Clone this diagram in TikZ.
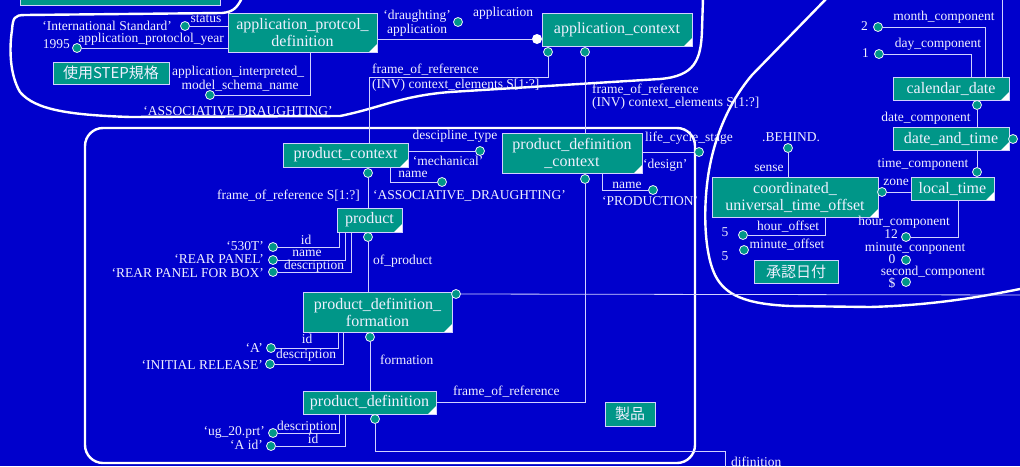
\documentclass[tikz,border=0pt]{standalone}
\usepackage{fontspec}
\setmainfont{Liberation Serif}
\newfontfamily\jpfont{Noto Sans CJK JP}

\definecolor{bgblue}{RGB}{0,0,204}
\definecolor{boxteal}{RGB}{0,150,136}
\definecolor{wire}{RGB}{210,210,255}
\definecolor{ink}{RGB}{240,240,255}

\tikzstyle{entity} = [rectangle, draw=wire, fill=boxteal, text=ink, line width=0.8pt,
inner sep=0pt, align=center, font=\fontsize{16}{17}\selectfont,
path picture={\fill[white] ([xshift=-8pt]path picture bounding box.south east) -- (path picture bounding box.south east) -- ([yshift=8pt]path picture bounding box.south east) -- cycle;}]
\tikzstyle{plainbox} = [rectangle, draw=wire, fill=boxteal, text=ink, line width=0.8pt,
inner sep=0pt, font=\jpfont\fontsize{15}{16}\selectfont]
\tikzstyle{attr} = [circle, draw=ink, fill=boxteal, line width=0.8pt, inner sep=0pt, minimum size=9pt]
\tikzstyle{lbl} = [text=ink, inner sep=0pt, text height=9pt, text depth=2.5pt, font=\fontsize{13.5}{14}\selectfont]
\tikzstyle{wireline} = [draw=wire, line width=0.8pt]
\tikzstyle{region} = [draw=white, line width=2.4pt]

\begin{document}
\begin{tikzpicture}[x=1pt, y=-1pt]
	\useasboundingbox (0,0) rectangle (1020,466);
	\path[clip] (0,0) rectangle (1020,466);
	\fill[bgblue] (0,0) rectangle (1020,466);

	%regions
	\draw[region] (242,-2) .. controls (237,8) and (233,12) .. (222,13) -- (25,15)
		.. controls (14,15) and (13,18) .. (12,30) .. controls (9,50) and (10,75) .. (20,92)
		.. controls (35,110) and (70,115) .. (130,117) -- (340,116)
		.. controls (380,108) and (400,96) .. (450,92) -- (660,79)
		.. controls (695,76) and (701,60) .. (702,30) -- (703,-2);
	\draw[region] (827,-2) -- (752,75) .. controls (735,95) and (718,125) .. (710,165)
		.. controls (703,200) and (703,250) .. (715,275) .. controls (725,295) and (745,304) .. (790,306)
		-- (870,307) .. controls (940,305) and (990,295) .. (1025,288);
	\draw[region, rounded corners=18pt] (85,128) rectangle (695,463);

	%nodes for application part
	\node[plainbox, minimum width=200pt, minimum height=30pt] (topbox) at (120,-10) {};
	\node[entity, minimum width=149pt, minimum height=39pt] (apd) at (302.5,32.5) {application\_protcol\_\\definition};
	\node[entity, minimum width=150pt, minimum height=33pt] (ac) at (617,29.5) {application\_context};
	\node[plainbox, minimum width=116pt, minimum height=22pt] (stepStd) at (111,73) {使用STEP規格};
	\node[attr] (dStatus) at (185,26) {};
	\node[attr] (dYear) at (77,48) {};
	\node[attr] (dSchema) at (210,95) {};
	\node[attr] (dDraught) at (458,22) {};
	\node[circle, fill=white, inner sep=0pt, minimum size=10pt] (dApp) at (537,39) {};
	\node[attr] (dAcA) at (548,52) {};
	\node[attr] (dAcB) at (585,52) {};

	%nodes for product part
	\node[entity, minimum width=125pt, minimum height=24pt] (pc) at (345.5,155) {product\_context};
	\node[entity, minimum width=65pt, minimum height=24pt] (prod) at (369.5,220) {product};
	\node[entity, minimum width=140pt, minimum height=40pt] (pdc) at (572,153) {product\_definition\\\_context};
	\node[entity, minimum width=149pt, minimum height=40pt] (pdf) at (377.5,312) {product\_definition\_\\formation};
	\node[entity, minimum width=133pt, minimum height=23pt] (pd) at (369.5,402.5) {product\_definition};
	\node[plainbox, minimum width=50pt, minimum height=24pt] (seihin) at (630,414) {製品};
	\node[attr] (dPcDisc) at (480,151) {};
	\node[attr] (dPcName) at (442,182) {};
	\node[attr] (dPc) at (368,173) {};
	\node[attr] (dProdId) at (273,247) {};
	\node[attr] (dProdName) at (273,260) {};
	\node[attr] (dProdDesc) at (273,272) {};
	\node[attr] (dProd) at (368,237) {};
	\node[attr] (dPdc) at (585,179) {};
	\node[attr] (dLife) at (699,152) {};
	\node[attr] (dPdcName) at (653,190) {};
	\node[attr] (dPdfRight) at (456,294) {};
	\node[attr] (dPdf) at (370,337) {};
	\node[attr] (dPdfId) at (271,348) {};
	\node[attr] (dPdfDesc) at (270,364) {};
	\node[attr] (dPd) at (375,419) {};
	\node[attr] (dPdDesc) at (273,433) {};
	\node[attr] (dPdId) at (271,446) {};

	%nodes for date and time part
	\node[entity, minimum width=116pt, minimum height=23pt] (cal) at (951,88.5) {calendar\_date};
	\node[entity, minimum width=116pt, minimum height=23pt] (dat) at (951,138.5) {date\_and\_time};
	\node[entity, minimum width=83pt, minimum height=23pt] (lt) at (952.5,188.5) {local\_time};
	\node[entity, minimum width=166pt, minimum height=40pt] (cuto) at (795,197) {coordinated\_\\universal\_time\_offset};
	\node[plainbox, minimum width=84pt, minimum height=23pt] (approval) at (796,271.5) {承認日付};
	\node[attr] (dMonth) at (878,27) {};
	\node[attr] (dDay) at (879,54) {};
	\node[attr] (dCal) at (977,105) {};
	\node[attr] (dDatRight) at (1013,139) {};
	\node[attr] (dDat) at (977,172) {};
	\node[attr] (dZone) at (882,192) {};
	\node[attr] (dSense) at (788,148) {};
	\node[attr] (dHour) at (743,235) {};
	\node[attr] (dMinute) at (744,250) {};
	\node[attr] (dLtHour) at (906,237) {};
	\node[attr] (dLtMin) at (906,260) {};
	\node[attr] (dLtSec) at (906,282) {};

	\coordinate (acBend) at (369,77);
	\coordinate (pdfOut) at (1030,295);
	\coordinate (pdBend) at (725,451);
	\coordinate (pdOut) at (725,480);
	\coordinate (calOut) at (1002,-10);

	%edges
	\path[wireline] (dStatus) -- (apd.west |- dStatus);
	\path[wireline] (dYear) -- (apd.west |- dYear);
	\path[wireline] (dSchema) -| ([xshift=-67pt]apd.south east);
	\path[wireline] (apd.east |- dApp) -- (dApp);
	\path[wireline] (dAcA) |- (acBend) -- (acBend |- pc.north);
	\path[wireline] (dAcB) -- (dAcB |- pdc.north);
	\path[wireline] (pc.east |- dPcDisc) -- (dPcDisc);
	\path[wireline] (dPcName) -| ([xshift=44.5pt]pc.south);
	\path[wireline] (dPc) -- (dPc |- prod.north);
	\path[wireline] (dProdId) -| ([xshift=-30.5pt]prod.south);
	\path[wireline] (dProdName) -| ([xshift=-24.5pt]prod.south);
	\path[wireline] (dProdDesc) -| ([xshift=-18.5pt]prod.south);
	\path[wireline] (dProd) -- (dProd |- pdf.north);
	\path[wireline] (pdc.east |- dLife) -- (dLife);
	\path[wireline] (dPdcName) -| ([xshift=30pt]pdc.south);
	\path[wireline] (dPdc) |- (pd.east);
	\path[wireline] (dPdfRight) -- (pdfOut);
	\path[wireline] (dPdfId) -| ([xshift=-39.5pt]pdf.south);
	\path[wireline] (dPdfDesc) -| ([xshift=-34.5pt]pdf.south);
	\path[wireline] (dPdf) -- (dPdf |- pd.north);
	\path[wireline] (dPdDesc) -| ([xshift=-30.5pt]pd.south);
	\path[wireline] (dPdId) -| ([xshift=-24.5pt]pd.south);
	\path[wireline] (dPd) |- (pdBend) -- (pdOut);
	\path[wireline] (dMonth) -| ([xshift=34pt]cal.north);
	\path[wireline] (dDay) -| ([xshift=20pt]cal.north);
	\path[wireline] ([xshift=51pt]cal.north) -- (calOut);
	\path[wireline] (dCal) -- (dCal |- dat.north);
	\path[wireline] (dat.south -| dDat) -- (dDat);
	\path[wireline] (dZone) -- (lt.west |- dZone);
	\path[wireline] (dSense) -- (dSense |- cuto.north);
	\path[wireline] (dHour) -| ([xshift=30pt]cuto.south);
	\path[wireline] (dLtHour) -| ([xshift=5.5pt]lt.south);

	%labels for application part
	\node[lbl, anchor=east] (tIntl) at (172,27) {‘International Standard’};
	\node[lbl] (tStatus) at (206,19) {status};
	\node[lbl, anchor=east] (t1995) at (70,45) {1995};
	\node[lbl] (tYear) at (151,39) {application\_protoclol\_year};
	\node[lbl] (tAim) at (238,72) {application\_interpreted\_};
	\node[lbl] (tSchema) at (240,86) {model\_schema\_name};
	\node[lbl] (tAssoc) at (238,112) {‘ASSOCIATIVE DRAUGHTING’};
	\node[lbl] (tDraught) at (417,16) {‘draughting’};
	\node[lbl] (tAppA) at (417,30) {application};
	\node[lbl] (tAppB) at (503,13) {application};
	\node[lbl, anchor=west] (tFrameA) at (372,70) {frame\_of\_reference};
	\node[lbl, anchor=west] (tInvA) at (372,85) {(INV) context\_elements S[1:?]};
	\node[lbl, anchor=west] (tFrameB) at (592,90) {frame\_of\_reference};
	\node[lbl, anchor=west] (tInvB) at (592,103) {(INV) context\_elements S[1:?]};

	%labels for product part
	\node[lbl] (tDisc) at (455,136) {descipline\_type};
	\node[lbl] (tMech) at (448,162) {‘mechanical’};
	\node[lbl] (tPcName) at (413,174) {name};
	\node[lbl, anchor=west] (tAssocB) at (373,196) {‘ASSOCIATIVE\_DRAUGHTING’};
	\node[lbl, anchor=east] (tFrameC) at (360,196) {frame\_of\_reference S[1:?]};
	\node[lbl] (tProdId) at (306,241) {id};
	\node[lbl] (tProdName) at (307,253) {name};
	\node[lbl] (tProdDesc) at (314,266) {description};
	\node[lbl, anchor=east] (t530) at (264,247) {‘530T’};
	\node[lbl, anchor=east] (tRear) at (264,260) {‘REAR PANEL’};
	\node[lbl, anchor=east] (tRearBox) at (264,274) {‘REAR PANEL FOR BOX’};
	\node[lbl, anchor=west] (tOfProd) at (373,261) {of\_product};
	\node[lbl, anchor=west] (tLife) at (645,138) {life\_cycle\_stage};
	\node[lbl, anchor=west] (tDesign) at (643,165) {‘design’};
	\node[lbl] (tPdcName) at (627,185) {name};
	\node[lbl, anchor=west] (tProduction) at (602,202) {‘PRODUCTION’};
	\node[lbl] (tPdfId) at (307,340) {id};
	\node[lbl] (tPdfDesc) at (306,355) {description};
	\node[lbl, anchor=east] (tA) at (263,349) {‘A’};
	\node[lbl, anchor=east] (tInitial) at (263,366) {‘INITIAL RELEASE’};
	\node[lbl, anchor=west] (tFormation) at (380,361) {formation};
	\node[lbl, anchor=west] (tFrameD) at (453,392) {frame\_of\_reference};
	\node[lbl] (tPdDesc) at (307,427) {description};
	\node[lbl] (tPdId) at (313,440) {id};
	\node[lbl, anchor=east] (tUg) at (265,432) {‘ug\_20.prt’};
	\node[lbl, anchor=east] (tAid) at (263,446) {‘A id’};
	\node[lbl, anchor=north west] (tDifi) at (731,457) {difinition};

	%labels for date and time part
	\node[lbl] (tMonth) at (944,17) {month\_component};
	\node[lbl, anchor=east] (t2) at (868,27) {2};
	\node[lbl] (tDay) at (938,44) {day\_component};
	\node[lbl, anchor=east] (t1) at (869,54) {1};
	\node[lbl] (tDateComp) at (926,118) {date\_component};
	\node[lbl] (tTimeComp) at (923,164) {time\_component};
	\node[lbl] (tZone) at (896,182) {zone};
	\node[lbl] (tBehind) at (791,138) {.BEHIND.};
	\node[lbl] (tSense) at (769,168) {sense};
	\node[lbl] (tHourOff) at (788,227) {hour\_offset};
	\node[lbl] (t5a) at (725,233) {5};
	\node[lbl] (tMinOff) at (787,245) {minute\_offset};
	\node[lbl] (t5b) at (725,257) {5};
	\node[lbl] (tHourComp) at (904,222) {hour\_component};
	\node[lbl] (t12) at (891,235) {12};
	\node[lbl] (tMinComp) at (915,248) {minute\_conponent};
	\node[lbl] (t0) at (892,260) {0};
	\node[lbl] (tSecComp) at (933,272) {second\_component};
	\node[lbl] (tDollar) at (892,284) {\$};
\end{tikzpicture}
\end{document}
